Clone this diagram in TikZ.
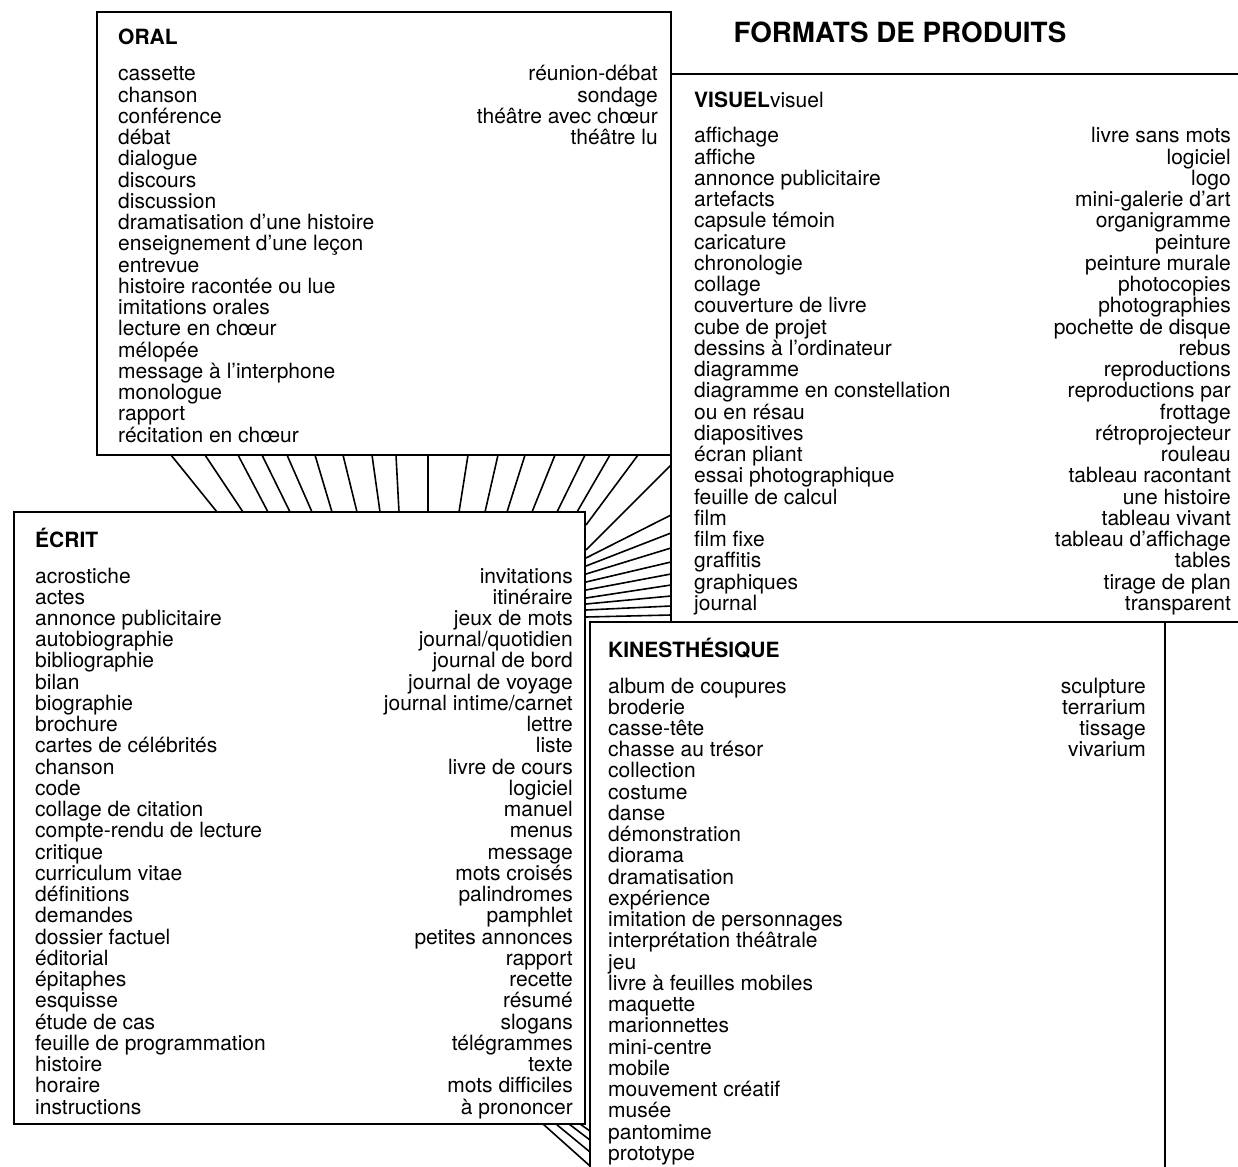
\documentclass[tikz,border=0pt]{standalone}
\usepackage{fontspec}
\setmainfont{TeX Gyre Heros}
\newcommand\lstfont{\fontsize{21}{21.24}\selectfont}
\newcommand\ttlfont{\fontsize{27.8}{30}\selectfont\bfseries}
\newcommand\colL[1]{\vtop{\baselineskip=21.24pt\lineskiplimit=-100pt\lineskip=0pt\let\\\cr\halign{##\hfil\cr#1\crcr}}}
\newcommand\colR[1]{\vtop{\baselineskip=21.24pt\lineskiplimit=-100pt\lineskip=0pt\let\\\cr\halign{\hfil##\cr#1\crcr}}}
\begin{document}
\begin{tikzpicture}[x=1pt,y=-1pt,
  box/.style={draw=black, line width=1.8pt},
  ray/.style={draw=black, line width=1.6pt},
  lcol/.style={inner sep=0pt, anchor=base west, font=\lstfont},
  rcol/.style={inner sep=0pt, anchor=base east, font=\lstfont},
  hd/.style={inner sep=0pt, anchor=base west, font=\lstfont\bfseries}]
\useasboundingbox (0,0) rectangle (1238,1166);
\clip (0,0) rectangle (1238,1166);
\fill[white] (0,0) rectangle (1238,1166);

% title
\node[inner sep=0pt, anchor=base, font=\ttlfont] (title) at (900,43) {FORMATS DE PRODUITS};

% boxes
\draw[box] (1250,74) -- (671,74) -- (671,622) -- (1250,622);
\draw[box] (590,1180) -- (590,622) -- (1165,622) -- (1165,1180);
\node[box, inner sep=0pt, outer sep=0pt, anchor=north west, minimum width=574pt, minimum height=443pt] (oralbox) at (97,12) {};
\node[box, inner sep=0pt, outer sep=0pt, anchor=north west, minimum width=571pt, minimum height=612pt] (ecritbox) at (14,512) {};

% upper fan between ORAL and ECRIT
\foreach \a/\b in {171/217,205/243,238/268,262/290,287/312,315/332,343/357,372/380,396/399,428/428,468/459,498/485,525/507,555/532,585/557,610/577}
  \draw[ray] (\a,455) -- (\b,512);
\draw[ray] (638,455) -- (586,525);
% right fan between ECRIT and VISUEL
\foreach \a/\b in {465/550,515/558,533/566,548/574,562/582,574/590,585/598,596/604,606/610,615/617}
  \draw[ray] (671,\a) -- (586,\b);
% lower fan between ECRIT and KINESTHESIQUE
\foreach \a/\b in {543/1166,556/1152,569/1140,580/1131}
  \draw[ray] (\a,1124) -- (590,\b);

% ORAL
\node[hd] (oralh) at (118,44.5) {ORAL};
\node[lcol] (oralL) at (118,81) {\colL{cassette\\chanson\\conférence\\débat\\dialogue\\discours\\discussion\\dramatisation d'une histoire\\enseignement d'une leçon\\entrevue\\histoire racontée ou lue\\imitations orales\\lecture en chœur\\mélopée\\message à l'interphone\\monologue\\rapport\\récitation en chœur}};
\node[rcol] (oralR) at (658,81) {\colR{réunion-débat\\sondage\\théâtre avec chœur\\théâtre lu}};

% VISUEL
\node[hd] (vish) at (694,108) {VISUEL\mdseries visuel};
\node[lcol] (visL) at (694,143) {\colL{affichage\\affiche\\annonce publicitaire\\artefacts\\capsule témoin\\caricature\\chronologie\\collage\\couverture de livre\\cube de projet\\dessins à l'ordinateur\\diagramme\\diagramme en constellation\\ou en résau\\diapositives\\écran pliant\\essai photographique\\feuille de calcul\\film\\film fixe\\graffitis\\graphiques\\journal}};
\node[rcol] (visR) at (1231,143) {\colR{livre sans mots\\logiciel\\logo\\mini-galerie d'art\\organigramme\\peinture\\peinture murale\\photocopies\\photographies\\pochette de disque\\rebus\\reproductions\\reproductions par\\frottage\\rétroprojecteur\\rouleau\\tableau racontant\\une histoire\\tableau vivant\\tableau d'affichage\\tables\\tirage de plan\\transparent}};

% ECRIT
\node[hd] (ecrh) at (35,547) {ÉCRIT};
\node[lcol] (ecrL) at (35,583) {\colL{acrostiche\\actes\\annonce publicitaire\\autobiographie\\bibliographie\\bilan\\biographie\\brochure\\cartes de célébrités\\chanson\\code\\collage de citation\\compte-rendu de lecture\\critique\\curriculum vitae\\définitions\\demandes\\dossier factuel\\éditorial\\épitaphes\\esquisse\\étude de cas\\feuille de programmation\\histoire\\horaire\\instructions}};
\node[rcol] (ecrR) at (573,583) {\colR{invitations\\itinéraire\\jeux de mots\\journal/quotidien\\journal de bord\\journal de voyage\\journal intime/carnet\\lettre\\liste\\livre de cours\\logiciel\\manuel\\menus\\message\\mots croisés\\palindromes\\pamphlet\\petites annonces\\rapport\\recette\\résumé\\slogans\\télégrammes\\texte\\mots difficiles\\à prononcer}};

% KINESTHESIQUE
\node[hd] (kinh) at (608,657) {KINESTHÉSIQUE};
\node[lcol] (kinL) at (608,693) {\colL{album de coupures\\broderie\\casse-tête\\chasse au trésor\\collection\\costume\\danse\\démonstration\\diorama\\dramatisation\\expérience\\imitation de personnages\\interprétation théâtrale\\jeu\\livre à feuilles mobiles\\maquette\\marionnettes\\mini-centre\\mobile\\mouvement créatif\\musée\\pantomime\\prototype}};
\node[rcol] (kinR) at (1146,693) {\colR{sculpture\\terrarium\\tissage\\vivarium}};
\end{tikzpicture}
\end{document}
